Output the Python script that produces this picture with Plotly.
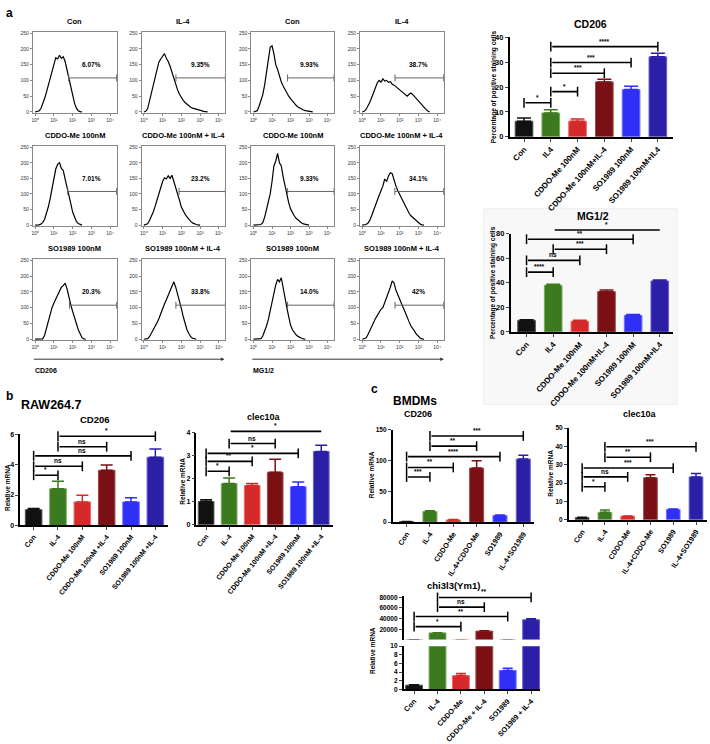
import plotly.graph_objects as go

W, H = 710, 744
FONT = "Liberation Sans"

# --- data: flow histograms (counts at log10 intensity 0.0, 0.1, 0.2, ...) ---
HIST_LOG = [0.0, 0.1, 0.2, 0.3, 0.4, 0.5, 0.6, 0.7, 0.8, 0.9, 1.0, 1.1, 1.2,
            1.3, 1.4, 1.5, 1.6, 1.7, 1.8, 1.9, 2.0, 2.1, 2.2, 2.3, 2.4, 2.5,
            2.6, 2.7, 2.8, 2.9, 3.0, 3.1, 3.2, 3.3, 3.4, 3.5, 3.6, 3.7]
HIST_TICKS = ["10⁰", "10¹", "10²", "10³", "10⁴"]

H_CON_CD206 = [0, 1, 3, 10, 25, 42, 62, 85, 105, 130, 155, 172, 168, 180, 170, 175, 160,
               135, 110, 80, 50, 28, 12, 4, 1, 0]
H_IL4_CD206 = [0, 2, 10, 35, 62, 90, 112, 140, 158, 168, 175, 185, 170, 160, 145, 125,
               105, 88, 70, 56, 45, 37, 30, 24, 19, 15, 12, 10, 8, 6, 5, 3, 2, 1, 0]
H_CON_MG = [0, 1, 4, 18, 35, 55, 85, 120, 165, 205, 210, 185, 150, 135, 112, 95, 82, 70,
            58, 50, 42, 34, 27, 21, 16, 12, 9, 6, 4, 3, 2, 1, 0]
H_IL4_MG = [0, 2, 8, 18, 30, 45, 60, 78, 92, 100, 95, 105, 98, 100, 94, 96, 88, 85, 80,
            75, 68, 62, 58, 52, 50, 56, 60, 55, 48, 40, 35, 28, 22, 15, 8, 3, 0]
H_CDDO_CD206 = [0, 0, 1, 3, 8, 18, 35, 58, 85, 120, 150, 180, 195, 200, 182, 175, 148,
                125, 100, 70, 42, 25, 12, 5, 2, 0]
H_CDDOIL4_CD206 = [0, 1, 4, 15, 28, 42, 60, 78, 98, 120, 140, 152, 148, 158, 150, 160,
                   140, 122, 105, 80, 58, 45, 35, 26, 18, 12, 7, 4, 2, 1, 0]
H_CDDO_MG = [0, 0, 0, 0, 2, 8, 25, 50, 78, 100, 140, 190, 205, 230, 200, 190, 155, 125,
             100, 72, 52, 40, 30, 22, 16, 11, 7, 4, 2, 1, 0]
H_CDDOIL4_MG = [0, 0, 2, 6, 15, 30, 48, 62, 80, 95, 110, 125, 148, 140, 158, 168, 165,
                142, 125, 110, 98, 85, 70, 58, 48, 38, 30, 24, 18, 12, 7, 3, 1, 0]
H_SO_CD206 = [0, 0, 0, 0, 1, 12, 35, 55, 78, 100, 115, 128, 142, 155, 165, 170, 178, 160,
              130, 110, 88, 65, 50, 30, 15, 5, 1, 0]
H_SOIL4_CD206 = [0, 0, 2, 8, 18, 30, 42, 52, 65, 82, 98, 112, 125, 140, 158, 172, 182,
                 165, 145, 118, 98, 72, 50, 30, 18, 8, 3, 1, 0]
H_SO_MG = [0, 0, 0, 0, 2, 10, 25, 42, 62, 90, 118, 148, 172, 190, 182, 195, 160, 125, 100,
           72, 45, 30, 20, 14, 9, 5, 3, 1, 0]
H_SOIL4_MG = [0, 1, 4, 14, 28, 42, 55, 65, 75, 85, 95, 100, 115, 130, 145, 165, 185, 178,
              155, 140, 125, 108, 98, 85, 68, 55, 42, 35, 25, 15, 8, 3, 1, 0]

HIST_TITLES = [["Con", "IL-4", "Con", "IL-4"],
               ["CDDO-Me 100nM", "CDDO-Me 100nM + IL-4", "CDDO-Me 100nM", "CDDO-Me 100nM + IL-4"],
               ["SO1989 100nM", "SO1989 100nM + IL-4", "SO1989 100nM", "SO1989 100nM + IL-4"]]
HIST_DATA = [[H_CON_CD206, H_IL4_CD206, H_CON_MG, H_IL4_MG],
             [H_CDDO_CD206, H_CDDOIL4_CD206, H_CDDO_MG, H_CDDOIL4_MG],
             [H_SO_CD206, H_SOIL4_CD206, H_SO_MG, H_SOIL4_MG]]
HIST_PCT = [["6.07%", "9.35%", "9.93%", "38.7%"],
            ["7.01%", "23.2%", "9.33%", "34.1%"],
            ["20.3%", "33.8%", "14.0%", "42%"]]
HIST_GATE = [[1.79, 1.71, 1.84, 1.75],
             [1.74, 1.88, 1.84, 1.74],
             [1.83, 1.71, 1.84, 1.75]]
GATE_LEVEL = 108

# --- data: bar charts (mean, upper error, significance brackets) ---
BAR_COLORS = ["#111111", "#3b7a1f", "#d42a2a", "#7b1014", "#2f2ff5", "#2a1fa6"]
BAR_EDGES = ["#555555", "#79a860", "#ee6a6a", "#a04a4a", "#7070ff", "#6a60d0"]

A_LABELS = ["Con", "IL4", "CDDO-Me 100nM", "CDDO-Me 100nM+IL-4", "SO1989 100nM", "SO1989 100nM+IL4"]
A_CD206_MEAN = [6.3, 9.6, 6.3, 22.1, 19.0, 32.2]
A_CD206_SEM = [1.3, 1.3, 0.9, 1.1, 1.4, 1.4]
A_CD206_SIG = [(0, 1, 13.7, "*"), (1, 2, 18.2, "*"), (1, 3, 25.6, "***"),
               (1, 4, 29.9, "***"), (1, 5, 36.3, "****")]
A_MG_MEAN = [9.5, 38.0, 8.7, 32.8, 13.5, 41.5]
A_MG_SEM = [0.5, 0.9, 0.8, 1.4, 0.6, 0.9]
A_MG_SIG = [(0, 1, 48.7, "****"), (0, 2, 58.3, "ns"), (1, 3, 67.4, "***"),
            (0, 4, 75.5, "**"), (1, 5, 83.0, "*")]

B_LABELS = ["Con", "IL-4", "CDDO-Me 100nM", "CDDO-Me 100nM +IL-4", "SO1989 100nM", "SO1989 100nM +IL-4"]
B_CD206_MEAN = [1.04, 2.42, 1.55, 3.63, 1.55, 4.49]
B_CD206_SEM = [0.08, 0.48, 0.43, 0.34, 0.28, 0.54]
B_CD206_SIG = [(0, 1, 3.3, "*"), (0, 2, 3.89, "ns"), (0, 4, 4.58, "ns"),
               (1, 3, 5.18, "ns"), (1, 5, 5.87, "*")]
B_CLEC_MEAN = [1.01, 1.80, 1.71, 2.29, 1.66, 3.19]
B_CLEC_SEM = [0.08, 0.24, 0.09, 0.57, 0.20, 0.28]
B_CLEC_SIG = [(0, 1, 2.33, "*"), (0, 2, 2.76, "**"), (0, 4, 3.11, "*"),
              (1, 3, 3.54, "ns"), (1, 5, 4.07, "*")]

C_LABELS = ["Con", "IL-4", "CDDO-Me", "IL-4+CDDO-Me", "SO1989", "IL-4+SO1989"]
C_CD206_MEAN = [1.0, 17.5, 3.7, 87.8, 11.0, 102.5]
C_CD206_SEM = [0.3, 1.1, 0.5, 12.0, 0.6, 6.0]
C_CD206_SIG = [(0, 1, 73.4, "***"), (0, 2, 88.8, "**"), (0, 4, 106.4, "****"),
               (1, 3, 123.4, "**"), (1, 5, 139.9, "***")]
C_CLEC_MEAN = [1.2, 4.1, 2.0, 22.9, 5.7, 23.4]
C_CLEC_SEM = [0.2, 1.3, 0.1, 1.7, 0.2, 1.8]
C_CLEC_SIG = [(0, 1, 18.0, "*"), (0, 2, 23.4, "ns"), (0, 4, 28.2, "***"),
              (1, 3, 34.1, "**"), (1, 5, 39.8, "***")]
C_YM1_LABELS = ["Con", "IL-4", "CDDO-Me", "CDDO-Me + IL-4", "SO1989", "SO1989 + IL-4"]
C_YM1_MEAN = [1.0, 13500, 3.2, 16800, 4.4, 38000]
C_YM1_SEM = [0.1, 300, 0.5, 900, 0.5, 1800]
C_YM1_SIG = [(0, 2, 25100, "*"), (0, 4, 44000, "**"), (1, 3, 61500, "ns"), (1, 5, 79600, "**")]

fig = go.Figure()
axes = {}
annots = []
shapes = []
_count = [0]


def add_axes(x0, x1, y0, y1):
    """Pixel box (y0 = top) -> new x/y axis pair."""
    _count[0] += 1
    sfx = "" if _count[0] == 1 else str(_count[0])
    xr, yr = "x" + sfx, "y" + sfx
    axes["xaxis" + sfx] = dict(domain=[x0 / W, x1 / W], anchor=yr)
    axes["yaxis" + sfx] = dict(domain=[1 - y1 / H, 1 - y0 / H], anchor=xr)
    return xr, yr, "xaxis" + sfx, "yaxis" + sfx


def font(size, color="black"):
    return dict(family=FONT, size=size, color=color, weight=700)


def label(x, y, s, size, xanchor="center", yanchor="middle", angle=0):
    annots.append(dict(x=x / W, y=1 - y / H, xref="paper", yref="paper", text=s,
                       showarrow=False, xanchor=xanchor, yanchor=yanchor, textangle=angle,
                       font=font(size)))


# --- panel a: histograms ---
HIST_COLS = [(31, 115), (140, 224), (250, 333), (359, 443)]
HIST_ROWS = [(28, 111), (144, 226), (259, 342)]

for r, (ytop, ybot) in enumerate(HIST_ROWS):
    for c, (xl, xrr) in enumerate(HIST_COLS):
        xa, ya, xk, yk = add_axes(xl, xrr, ytop, ybot)
        counts = HIST_DATA[r][c]
        fig.add_trace(go.Scatter(x=HIST_LOG[:len(counts)], y=counts, mode="lines",
                                 line=dict(color="black", width=1.2), xaxis=xa, yaxis=ya,
                                 hoverinfo="skip"))
        fig.add_trace(go.Scatter(x=[HIST_GATE[r][c], 4.35], y=[GATE_LEVEL, GATE_LEVEL],
                                 mode="lines+markers", line=dict(color="#666666", width=1),
                                 marker=dict(symbol="line-ns", size=5,
                                             line=dict(color="#666666", width=1)),
                                 xaxis=xa, yaxis=ya, cliponaxis=False, hoverinfo="skip"))
        axes[xk].update(range=[-0.12, 4.35], showline=True, mirror=True, linecolor="#888888",
                        linewidth=1, ticks="outside", ticklen=2, tickcolor="#888888",
                        tickvals=[0, 1, 2, 3, 4], ticktext=HIST_TICKS,
                        tickfont=dict(family=FONT, size=5, color="#333333"),
                        showgrid=False, zeroline=False)
        axes[yk].update(range=[-4, 255], showline=True, mirror=True, linecolor="#888888",
                        linewidth=1, ticks="outside", ticklen=2, tickcolor="#888888",
                        tickvals=[0, 50, 100, 150, 200, 250],
                        tickfont=dict(family=FONT, size=5, color="#333333"),
                        showgrid=False, zeroline=False)
        annots.append(dict(x=3.0, y=150, xref=xa, yref=ya, text=HIST_PCT[r][c],
                           showarrow=False, font=font(6.5)))
        label((xl + xrr) / 2, ytop - 10, HIST_TITLES[r][c], 7.5)

for x0, x1, name in [(31, 223, "CD206"), (250, 443, "MG1/2")]:
    annots.append(dict(x=x1 / W, y=1 - 361 / H, xref="paper", yref="paper", text="",
                       showarrow=True, ax=-(x1 - x0), ay=0, arrowhead=2, arrowsize=0.7,
                       arrowwidth=1, arrowcolor="#333333"))
    label(x0, 372, name, 7, xanchor="left")


# --- bar charts ---
def bar_chart(box, labels, means, sems, sigs, yrange, yticks, xrange_, bw,
              tickfs, labfs, angle, cap, sigfs=6.5, show_x=True, tickformat=None):
    xa, ya, xk, yk = add_axes(*box)
    for i, (m, e) in enumerate(zip(means, sems)):
        fig.add_trace(go.Bar(x=[i], y=[m], width=[bw], xaxis=xa, yaxis=ya,
                             marker=dict(color=BAR_COLORS[i],
                                         line=dict(color=BAR_EDGES[i], width=1)),
                             error_y=dict(type="data", array=[e], arrayminus=[0],
                                          symmetric=False, color=BAR_COLORS[i],
                                          thickness=1.5, width=cap),
                             hoverinfo="skip"))
    ydom = ya + " domain"
    for a, b, h, s in sigs:
        # bracket height as a fraction of the y axis, so brackets above the top still draw
        fy = (h - yrange[0]) / (yrange[1] - yrange[0])
        annots.append(dict(x=b, y=fy, xref=xa, yref=ydom, ax=a, ay=fy, axref=xa, ayref=ydom,
                           text="", showarrow=True, arrowhead=0, arrowwidth=1.6,
                           arrowcolor="black", standoff=0, startstandoff=0))
        fig.add_trace(go.Scatter(x=[a, b], y=[h, h], mode="markers",
                                 marker=dict(symbol="line-ns", size=7,
                                             line=dict(color="black", width=1.5)),
                                 xaxis=xa, yaxis=ya, cliponaxis=False, hoverinfo="skip"))
        annots.append(dict(x=(a + b) / 2, y=fy, xref=xa, yref=ydom, text=s, showarrow=False,
                           yanchor="bottom", yshift=0, font=font(sigfs)))
    axes[xk].update(range=xrange_, showline=show_x, linecolor="black", linewidth=1.5,
                    ticks="outside" if show_x else "", ticklen=3, tickwidth=1.2,
                    tickvals=list(range(len(labels))), ticktext=labels, tickangle=angle,
                    tickfont=font(labfs), showticklabels=show_x, showgrid=False,
                    zeroline=False)
    axes[yk].update(range=yrange, showline=True, linecolor="black", linewidth=1.5,
                    ticks="outside", ticklen=3, tickwidth=1.2, tickvals=yticks,
                    tickfont=font(tickfs), showgrid=False, zeroline=False)
    if tickformat:
        axes[yk].update(tickformat=tickformat)
    return xa, ya


# faint backdrop behind the MG1/2 chart
shapes.append(dict(type="rect", xref="paper", yref="paper", x0=483 / W, x1=677 / W,
                   y0=1 - 407 / H, y1=1 - 208 / H, fillcolor="#f8f8f8",
                   line=dict(color="#eeeeee", width=1), layer="below"))

# panel a
bar_chart((509, 673, 34, 135), A_LABELS, A_CD206_MEAN, A_CD206_SEM, A_CD206_SIG,
          [0, 40], [0, 10, 20, 30, 40], [-0.54, 5.57], 0.66, 7.5, 8, -48, 7)
label(590, 20, "CD206", 10.5)
label(493, 84, "Percentage of positive staining cells", 6.5, angle=-90)

bar_chart((510, 673, 233.5, 333.3), A_LABELS, A_MG_MEAN, A_MG_SEM, A_MG_SIG,
          [0, 80], [0, 20, 40, 60, 80], [-0.6, 5.5], 0.66, 7.5, 8, -48, 7)
label(593, 215.5, "MG1/2", 10.5)
label(493, 283, "Percentage of positive staining cells", 6.5, angle=-90)

# panel b
bar_chart((18.3, 166, 437.3, 530), B_LABELS, B_CD206_MEAN, B_CD206_SEM, B_CD206_SIG,
          [0, 6], [0, 2, 4, 6], [-0.55, 5.5], 0.68, 7, 7, -51, 6)
label(93, 422, "CD206", 9.5)
label(5, 491, "Relative mRNA", 6.5, angle=-90)

bar_chart((195, 331.7, 436, 529.3), B_LABELS, B_CLEC_MEAN, B_CLEC_SEM, B_CLEC_SIG,
          [0, 4], [0, 1, 2, 3, 4], [-0.42, 5.5], 0.68, 7, 7, -51, 6)
label(263, 419.5, "clec10a", 9)
label(181, 485, "Relative mRNA", 6.5, angle=-90)

# panel c
bar_chart((391.7, 533.3, 432.7, 526.7), C_LABELS, C_CD206_MEAN, C_CD206_SEM, C_CD206_SIG,
          [0, 150], [0, 50, 100, 150], [-0.6, 5.45], 0.6, 6.5, 7.3, -57, 5)
label(417, 417, "CD206", 9)
label(370, 478, "Relative mRNA", 6.5, angle=-90)

bar_chart((568.3, 706.7, 431, 524.3), C_LABELS, C_CLEC_MEAN, C_CLEC_SEM, C_CLEC_SIG,
          [0, 50], [0, 10, 20, 30, 40, 50], [-0.59, 5.47], 0.6, 6.5, 7.3, -57, 5)
label(640, 417, "clec10a", 9)
label(550, 477, "Relative mRNA", 6.5, angle=-90)

# chi3l3 with broken y axis: upper segment (large values), lower segment (0-10)
bar_chart((402.7, 540, 601.5, 646), C_YM1_LABELS, C_YM1_MEAN, C_YM1_SEM, C_YM1_SIG,
          [1000, 82700], [20000, 40000, 60000, 80000], [-0.45, 5.4], 0.72, 6.5, 7.3, -47, 5,
          show_x=False, tickformat="d")
bar_chart((402.7, 540, 652.7, 696.7), C_YM1_LABELS, C_YM1_MEAN, C_YM1_SEM, [],
          [0, 10], [0, 2, 4, 6, 8, 10], [-0.45, 5.4], 0.72, 6.5, 7.3, -47, 5)
label(453, 591, "chi3l3(Ym1)", 9.5)
label(371.7, 657, "Relative mRNA", 6.5, angle=-90)

# panel letters and group headings
label(8, 9, "a", 12)
label(8, 398, "b", 12)
label(374, 391, "c", 12)
label(17, 408, "RAW264.7", 12.5, xanchor="left")
label(390, 404, "BMDMs", 12, xanchor="left")

fig.update_layout(width=W, height=H, margin=dict(l=0, r=0, t=0, b=0),
                  paper_bgcolor="white", plot_bgcolor="rgba(0,0,0,0)",
                  barmode="overlay", showlegend=False, annotations=annots, shapes=shapes,
                  font=dict(family=FONT), **axes)

fig.write_html("out.html", config={"displayModeBar": False},
               post_script="document.body.style.margin='0';")
